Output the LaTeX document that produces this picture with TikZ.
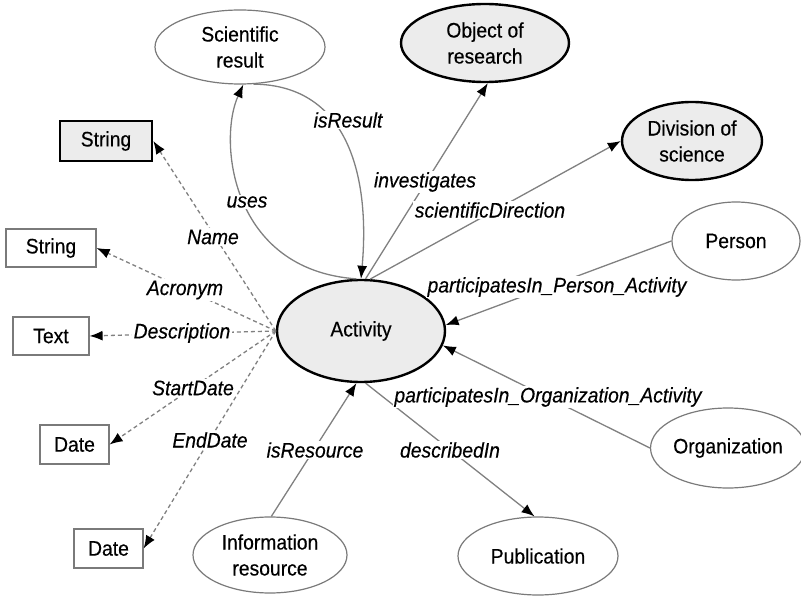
\documentclass[tikz,border=0pt]{standalone}
\usepackage{fontspec}
\setmainfont{Liberation Sans}[FakeStretch=0.92,FakeBold=0.35]
\usetikzlibrary{shapes.geometric,arrows.meta}
\definecolor{edgegray}{HTML}{808080}
\definecolor{rimgray}{HTML}{7A7A7A}
\definecolor{classfill}{HTML}{ECECEC}
\begin{document}
\begin{tikzpicture}[x=1pt,y=-1pt,
  font=\fontsize{21}{26}\selectfont,
  cls/.style={ellipse, draw=rimgray, line width=1.2pt, fill=white, align=center, inner sep=0pt},
  core/.style={ellipse, draw=black, line width=2.4pt, fill=classfill, align=center, inner sep=0pt},
  lit/.style={rectangle, draw=rimgray, line width=1.2pt, fill=white, inner sep=0pt},
  litkey/.style={rectangle, draw=black, line width=2.6pt, fill=classfill, inner sep=0pt},
  rel/.style={draw=edgegray, line width=1.3pt, -{Latex[length=13pt,width=10pt,color=black]}},
  attr/.style={rel, dash pattern=on 4pt off 3pt},
  lbl/.style={font=\fontsize{21}{26}\selectfont\itshape, fill=white, inner sep=1.5pt}]
\useasboundingbox (0,0) rectangle (801,596);

% classes
\node[core, minimum width=168pt, minimum height=102pt] (act) at (361,331) {Activity};
\node[cls,  minimum width=170pt, minimum height=74pt]  (sci) at (240,47) {Scientific\\result};
\node[core, minimum width=168pt, minimum height=78pt]  (obj) at (485,43) {Object of\\research};
\node[core, minimum width=140pt, minimum height=78pt]  (div) at (692,141) {Division of\\science};
\node[cls,  minimum width=128pt, minimum height=78pt]  (per) at (736,241) {Person};
\node[cls,  minimum width=146pt, minimum height=80pt]  (org) at (728,448) {Organization};
\node[cls,  minimum width=160pt, minimum height=78pt]  (pub) at (538,556) {Publication};
\node[cls,  minimum width=154pt, minimum height=76pt]  (info) at (270,555) {Information\\resource};

% literals
\node[litkey, minimum width=92pt, minimum height=40pt] (s1) at (106,141) {String};
\node[lit, minimum width=90pt, minimum height=38pt] (s2) at (51,248) {String};
\node[lit, minimum width=76pt, minimum height=38pt] (tx) at (51,336) {Text};
\node[lit, minimum width=69pt, minimum height=39pt] (d1) at (74.5,444.5) {Date};
\node[lit, minimum width=69pt, minimum height=39pt] (d2) at (108.5,548.5) {Date};

% datatype properties
\draw[attr] (act.west) -- (s1.east);
\draw[attr] (act.west) -- (s2.east);
\draw[attr] (act.west) -- (tx.east);
\draw[attr] (act.west) -- (d1.east);
\draw[attr] (act.west) -- (d2.east);

% object properties
\draw[rel] (act.95) .. controls (230,270) and (218,140) .. (sci.-85);
\draw[rel] (sci.-70) .. controls (350,85) and (370,180) .. (act.north);
\draw[rel] (act.85) -- (obj.-86);
\draw[rel] (act.80) -- (div.west);
\draw[rel] (per.west) -- (act.4);
\draw[rel] (org.west) -- (act.-10);
\draw[rel] (act.-85) -- (pub.95);
\draw[rel] (info.88) -- (act.-95);

% property labels
\node[lbl] (lname) at (213,237) {Name};
\node[lbl] (lacr) at (185,290) {Acronym};
\node[lbl] (ldesc) at (182,333) {Description};
\node[lbl] (lstart) at (193,388) {StartDate};
\node[lbl] (lend) at (210,440) {EndDate};
\node[lbl] (luses) at (247,202) {uses};
\node[lbl] (lres) at (348,120) {isResult};
\node[lbl] (linv) at (425,182) {investigates};
\node[lbl] (ldir) at (490,210) {scientificDirection};
\node[lbl] (lper) at (557,287) {participatesIn\_Person\_Activity};
\node[lbl] (lorg) at (548,397) {participatesIn\_Organization\_Activity};
\node[lbl] (ldsc) at (450,450) {describedIn};
\node[lbl] (lisr) at (315,450) {isResource};
\end{tikzpicture}
\end{document}
